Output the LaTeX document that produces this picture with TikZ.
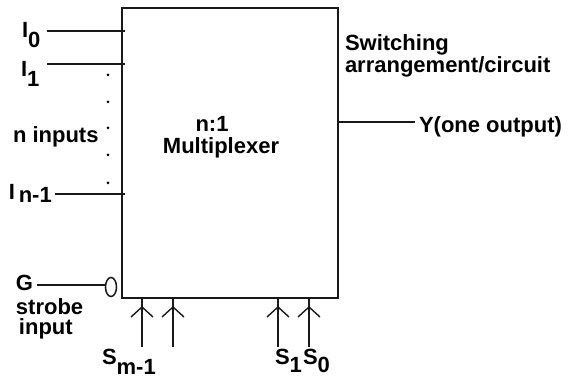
\documentclass[tikz,border=0pt]{standalone}
\usepackage{fontspec}
\setmainfont{Liberation Sans}
\usetikzlibrary{shapes.geometric}
\newcommand\lowsub[2]{\raisebox{-#1}{#2}}
\begin{document}
\begin{tikzpicture}[x=1pt,y=-1pt,
  lbl/.style={inner sep=0pt,outer sep=0pt,anchor=base west,font=\fontsize{22}{26}\selectfont\bfseries},
  wire/.style={line width=1.6pt,draw=black!90},
  chev/.style={line width=1.4pt,draw=black!90},
  dotmark/.style={circle,fill=black,inner sep=0pt,minimum size=3pt}]
\useasboundingbox (0,0) rectangle (576,379);
\node[draw=black!90,line width=2pt,minimum width=216pt,minimum height=290pt,inner sep=0pt,anchor=north west] (mux) at (121,7) {};
% inputs
\coordinate (i0s) at (47,31);
\coordinate (i1s) at (47,64);
\coordinate (ins) at (55,194);
\coordinate (i0e) at (125,31);
\coordinate (i1e) at (125,64);
\coordinate (ine) at (125,194);
\draw[wire] (i0s) -- (i0e);
\draw[wire] (i1s) -- (i1e);
\draw[wire] (ins) -- (ine);
\node[lbl] (lI0) at (22,38) {I\lowsub{10pt}{0}};
\node[lbl] (lI1) at (21,77) {I\lowsub{10pt}{1}};
\node[lbl] (lIn) at (9,200) {I\,\lowsub{3pt}{n-1}};
\node[lbl] (lnin) at (13,143) {n inputs};
\foreach \yy [count=\k] in {75,102,128,155,183} \node[dotmark] (d\k) at (108,\yy) {};
% strobe
\node[draw=black!90,line width=1.5pt,ellipse,minimum width=11pt,minimum height=19pt,inner sep=0pt] (strb) at (111,287) {};
\coordinate (gs) at (37,285);
\draw[wire] (gs) -- (strb.west |- gs);
\node[lbl] (lG) at (16,291) {G};
\node[lbl] (lstr) at (16,315) {strobe};
\node[lbl] (linp) at (19,335) {input};
% output
\coordinate (ye) at (415,122);
\draw[wire] (mux.east |- ye) -- (ye);
\node[lbl] (lY) at (419,133) {Y(one output)};
\node[lbl] (lsw) at (345,51) {Switching};
\node[lbl] (lar) at (345,73) {arrangement/circuit};
% mux text
\node[lbl,anchor=base] (lnn) at (212,132) {n:1};
\node[lbl,anchor=base] (lmx) at (221,154) {Multiplexer};
% select lines
\foreach \xx/\nm in {142/a,173/b,278/c,309/d}{
  \coordinate (\nm s) at (\xx,347);
  \draw[wire] (\nm s) -- (mux.south -| \nm s);
  \draw[chev] (\xx-11,317) -- (\xx,307) -- (\xx+11,317);
}
\node[lbl] (lsm) at (102,365) {S\lowsub{10pt}{m-1}};
\node[lbl] (ls1) at (275,365) {S\lowsub{8pt}{1}};
\node[lbl] (ls0) at (303,365) {S\lowsub{8pt}{0}};
\end{tikzpicture}
\end{document}
